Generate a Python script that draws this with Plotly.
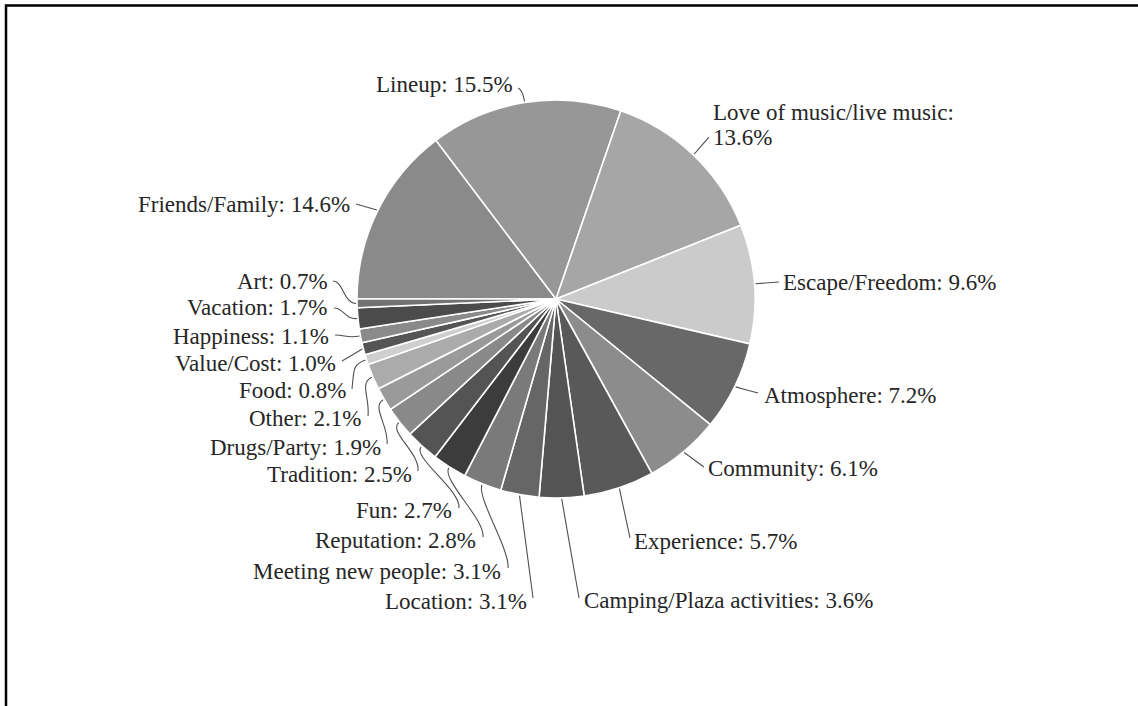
import math
import plotly.graph_objects as go

W, H = 1138, 706

# ---- data (clockwise, starting at 9 o'clock) ----
labels = ["Friends/Family", "Lineup", "Love of music/live music", "Escape/Freedom",
          "Atmosphere", "Community", "Experience", "Camping/Plaza activities",
          "Location", "Meeting new people", "Reputation", "Fun", "Tradition",
          "Drugs/Party", "Other", "Food", "Value/Cost", "Happiness", "Vacation", "Art"]
values = [14.6, 15.5, 13.6, 9.6, 7.2, 6.1, 5.7, 3.6, 3.1, 3.1, 2.8, 2.7, 2.5,
          1.9, 2.1, 0.8, 1.0, 1.1, 1.7, 0.7]
colors = ["#8a8a8a", "#979797", "#a6a6a6", "#cbcbcb", "#686868", "#8c8c8c",
          "#595959", "#545454", "#666666", "#7a7a7a", "#3c3c3c", "#545454",
          "#898989", "#9a9a9a", "#ababab", "#cfcfcf", "#555555", "#8a8a8a",
          "#4b4b4b", "#727272"]

# ---- layout: label text anchor (px), anchor side, leader end (px), leader style ----
label_text_pos = [(352, 204, "right"), (515, 84, "right"), (711, 112, "left"),
                  (781, 282, "left"), (762, 395, "left"), (706, 468, "left"),
                  (632, 541, "left"), (582, 600, "left"), (529, 601, "right"),
                  (503, 571, "right"), (478, 540, "right"), (454, 511, "right"),
                  (414, 474, "right"), (383, 447, "right"), (363, 418, "right"),
                  (348, 391, "right"), (338, 363, "right"), (331, 336, "right"),
                  (330, 308, "right"), (330, 281, "right")]
leader_end = [(356, 204), (518, 88), (709, 137), (779, 282), (758, 393), (704, 467),
              (630, 538), (579, 598), (533, 598), (508, 568), (483, 537), (459, 508),
              (418, 471), (387, 444), (368, 416), (352, 389), (342, 361), (335, 335),
              (334, 308), (333, 281)]
leader_style = ["s", "hook", "s", "s", "s", "s", "s", "s", "s", "v", "v", "v",
                "v", "v", "v", "v", "s", "h", "h", "h"]

CX, CY, R = 556, 299, 199
ROTATION = 270


def px(x):
    return x / W


def py(y):
    return 1 - y / H


fig = go.Figure()
fig.add_trace(go.Pie(
    labels=labels, values=values, sort=False, direction="clockwise",
    rotation=ROTATION, textinfo="none", hoverinfo="label+percent",
    marker=dict(colors=colors, line=dict(color="white", width=1.6)),
    domain=dict(x=[px(CX - R), px(CX + R)], y=[py(CY + R), py(CY - R)]),
    showlegend=False,
))

total = sum(values)
shapes = []
annotations = []
cum = 0.0
font = dict(family="Liberation Serif", size=23, color="#262626")
for i, (lab, v) in enumerate(zip(labels, values)):
    mid = ROTATION + (cum + v / 2) / total * 360
    cum += v
    a = math.radians(mid)
    ux, uy = math.sin(a), -math.cos(a)
    x0, y0 = CX + (R + 1) * ux, CY + (R + 1) * uy
    x3, y3 = leader_end[i]
    st = leader_style[i]
    if st == "s":
        x1, y1 = x0 + (x3 - x0) / 3, y0 + (y3 - y0) / 3
        x2, y2 = x0 + 2 * (x3 - x0) / 3, y0 + 2 * (y3 - y0) / 3
    elif st == "hook":
        x1, y1 = x0 + ux * 8, y0 + uy * 8
        x2, y2 = x3 + 3, y3 + 1
    elif st == "v":
        x1, y1 = x0 + ux * 14, y0 + uy * 14
        x2, y2 = x3 + 2, y3 - 18
    else:  # "h"
        x1, y1 = x0 + ux * 12, y0 + uy * 12
        x2, y2 = x3 + 10, y3
    path = "M {:.4f},{:.4f} C {:.4f},{:.4f} {:.4f},{:.4f} {:.4f},{:.4f}".format(
        px(x0), py(y0), px(x1), py(y1), px(x2), py(y2), px(x3), py(y3))
    shapes.append(dict(type="path", path=path, xref="paper", yref="paper",
                       line=dict(color="#505050", width=1.1), layer="above"))

    tx, ty, side = label_text_pos[i]
    pct = "{:.1f}%".format(v)
    if lab == "Love of music/live music":
        annotations.append(dict(x=px(tx), y=py(ty), xref="paper", yref="paper",
                                text=lab + ":", showarrow=False, xanchor="left",
                                yanchor="middle", font=font))
        annotations.append(dict(x=px(tx), y=py(ty + 25), xref="paper", yref="paper",
                                text=pct, showarrow=False, xanchor="left",
                                yanchor="middle", font=font))
    else:
        annotations.append(dict(x=px(tx), y=py(ty), xref="paper", yref="paper",
                                text=lab + ": " + pct, showarrow=False, xanchor=side,
                                yanchor="middle", font=font))

# frame
shapes.append(dict(type="rect", xref="paper", yref="paper",
                   x0=px(6), y0=py(5.5), x1=px(W + 10), y1=py(H + 10),
                   line=dict(color="black", width=2.5), fillcolor="rgba(0,0,0,0)"))

fig.update_layout(
    width=W, height=H, margin=dict(l=0, r=0, t=0, b=0),
    paper_bgcolor="white", plot_bgcolor="white",
    font=dict(family="Liberation Serif"),
    shapes=shapes, annotations=annotations,
)

fig.write_html("out.html")
